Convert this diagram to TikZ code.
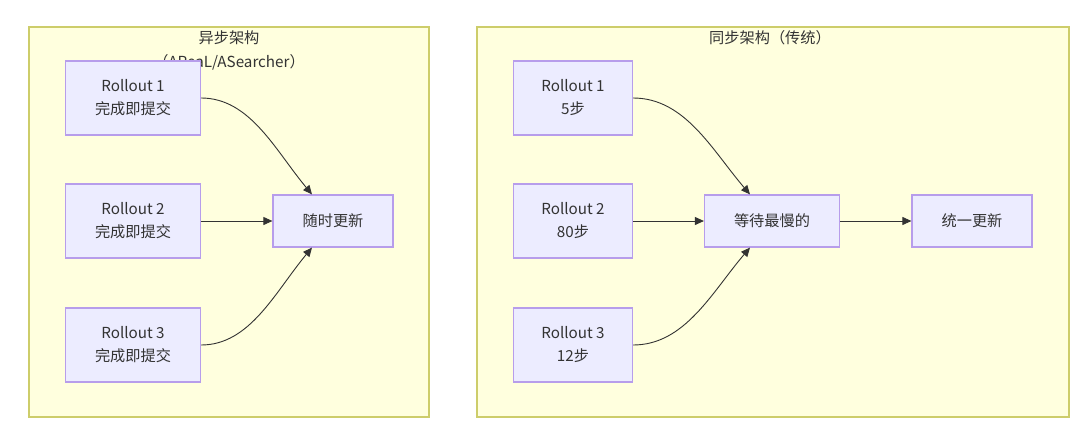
\documentclass[tikz,border=0pt]{standalone}
\usepackage{fontspec}
\setmainfont{Noto Sans CJK SC}
\usetikzlibrary{arrows.meta}
\definecolor{sgfill}{HTML}{FFFFDE}
\definecolor{sgline}{HTML}{CDCD6A}
\definecolor{ndfill}{HTML}{ECECFF}
\definecolor{ndline}{HTML}{B79DEB}
\definecolor{txt}{HTML}{333333}
\begin{document}
\begin{tikzpicture}[x=1pt,y=-1pt,
  sg/.style={draw=sgline,fill=sgfill,line width=1.2pt},
  nd/.style={draw=ndline,fill=ndfill,line width=1.2pt,text=txt,font=\fontsize{15.2}{23}\selectfont,align=center,inner sep=0pt},
  ttl/.style={text=txt,font=\fontsize{15.2}{24}\selectfont,align=center,inner sep=0pt},
  ed/.style={draw=txt,line width=0.9pt,-{Triangle[length=9pt,width=8pt]}}]
\useasboundingbox (0,0) rectangle (1080,426);
\fill[white] (0,0) rectangle (1080,426);
% subgraphs
\draw[sg] (29,27) rectangle (429,417);
\draw[sg] (477,27) rectangle (1069,417);
\node[ttl] (t1) at (229,50) {异步架构\\（AReaL/ASearcher）};
\node[ttl] (t2) at (770,38) {同步架构（传统）};
% left nodes
\node[nd,minimum width=135pt,minimum height=74pt] (a1) at (133,98) {Rollout 1\\完成即提交};
\node[nd,minimum width=135pt,minimum height=74pt] (a2) at (133,221) {Rollout 2\\完成即提交};
\node[nd,minimum width=135pt,minimum height=74pt] (a3) at (133,345) {Rollout 3\\完成即提交};
\node[nd,minimum width=120pt,minimum height=52pt] (au) at (333,221) {随时更新};
% right nodes
\node[nd,minimum width=119pt,minimum height=74pt] (b1) at (573,98) {Rollout 1\\5步};
\node[nd,minimum width=119pt,minimum height=74pt] (b2) at (573,221) {Rollout 2\\80步};
\node[nd,minimum width=119pt,minimum height=74pt] (b3) at (573,345) {Rollout 3\\12步};
\node[nd,minimum width=135pt,minimum height=52pt] (bw) at (772,221) {等待最慢的};
\node[nd,minimum width=120pt,minimum height=52pt] (bu) at (972,221) {统一更新};
% edges
\coordinate (au1) at ([xshift=-21pt]au.north);
\coordinate (au3) at ([xshift=-21pt]au.south);
\draw[ed] (a1.east) .. controls (250,98) and (275,150) .. (au1);
\draw[ed] (a2.east) -- (au.west);
\draw[ed] (a3.east) .. controls (250,345) and (275,292) .. (au3);
\coordinate (bw1) at ([xshift=-22pt]bw.north);
\coordinate (bw3) at ([xshift=-22pt]bw.south);
\draw[ed] (b1.east) .. controls (685,98) and (712,150) .. (bw1);
\draw[ed] (b2.east) -- (bw.west);
\draw[ed] (b3.east) .. controls (685,345) and (712,292) .. (bw3);
\draw[ed] (bw.east) -- (bu.west);
\end{tikzpicture}
\end{document}
